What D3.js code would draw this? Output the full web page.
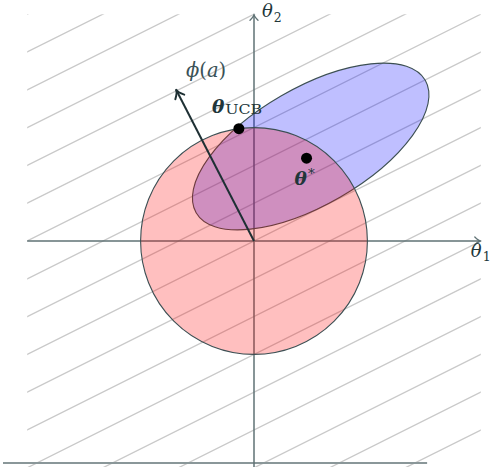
<!DOCTYPE html>
<html>
<head>
<meta charset="utf-8">
<script src="https://cdn.jsdelivr.net/npm/d3@7"></script>
<style>
  html, body { margin: 0; padding: 0; background: #fff; }
  svg { display: block; }
  text { font-family: "DejaVu Serif", "Liberation Serif", serif; }
</style>
</head>
<body>
<script>
// Parameter space (θ1, θ2) with a confidence ball, a plausible set and the UCB choice.
const axisExtent = [-6, 6];
const hatchOffsets = [-9, -8, -7, -6, -5, -4, -3, -2, -1, 0, 1, 2, 3, 4, 5, 6, 7, 8, 9];
const hatchSlope = 0.5;

const circleCenter = [0, 0];
const circleRadius = 3;

const ellipseCenter = [1.5, 2.5];
const ellipseAxes = [3.5, 1.55];
const ellipseAngle = 30;

const phiDirection = [-2.06, 4.0];

const pointNames = ["ucb", "star"];
const pointCoords = [[-0.4, 2.97], [1.39, 2.19]];

const baseLine = { y: -5.87, x0: -6.64, x1: 4.58 };

const W = 490, H = 467;
const unit = 37.8;
const ox = 254, oy = 241;

const x = d3.scaleLinear().domain([0, 1]).range([ox, ox + unit]);
const y = d3.scaleLinear().domain([0, 1]).range([oy, oy - unit]);

const svg = d3.select("body").append("svg").attr("width", W).attr("height", H);
const defs = svg.append("defs");
defs.append("clipPath").attr("id", "hatch-clip")
  .append("rect")
  .attr("x", x(axisExtent[0])).attr("y", y(axisExtent[1]))
  .attr("width", x(axisExtent[1]) - x(axisExtent[0]))
  .attr("height", y(axisExtent[0]) - y(axisExtent[1]));

// Diagonal hatching of the plane
svg.append("g").attr("clip-path", "url(#hatch-clip)")
  .selectAll("line").data(hatchOffsets).join("line")
  .attr("x1", x(-30)).attr("y1", c => y(hatchSlope * -30 + c))
  .attr("x2", x(30)).attr("y2", c => y(hatchSlope * 30 + c))
  .attr("stroke", "#c9c9c9").attr("stroke-width", 1.3);

// Bottom rule
svg.append("line")
  .attr("x1", x(baseLine.x0)).attr("x2", x(baseLine.x1))
  .attr("y1", y(baseLine.y)).attr("y2", y(baseLine.y))
  .attr("stroke", "#8a9799").attr("stroke-width", 2);

const axisColor = "#5f7275";
function chevron(g, tx, ty, angle, len, half, color, width) {
  const bx = -Math.cos(angle), by = -Math.sin(angle);
  const px = -by, py = bx;
  const p1 = [tx + bx * len + px * half, ty + by * len + py * half];
  const p2 = [tx + bx * len - px * half, ty + by * len - py * half];
  const q = [tx + bx * len * 0.35, ty + by * len * 0.35];
  g.append("path")
    .attr("d", `M${p1[0]},${p1[1]} Q${q[0]},${q[1]} ${tx},${ty} Q${q[0]},${q[1]} ${p2[0]},${p2[1]}`)
    .attr("fill", "none").attr("stroke", color).attr("stroke-width", width)
    .attr("stroke-linecap", "round").attr("stroke-linejoin", "round");
}

// Axes
const axes = svg.append("g");
axes.append("line")
  .attr("x1", x(axisExtent[0])).attr("x2", x(axisExtent[1]) - 1)
  .attr("y1", y(0)).attr("y2", y(0))
  .attr("stroke", axisColor).attr("stroke-width", 1.5);
chevron(axes, x(axisExtent[1]), y(0), 0, 6, 4, axisColor, 1.3);
axes.append("line")
  .attr("x1", x(0)).attr("x2", x(0))
  .attr("y1", H).attr("y2", y(axisExtent[1]) + 1)
  .attr("stroke", axisColor).attr("stroke-width", 1.5);
chevron(axes, x(0), y(axisExtent[1]), -Math.PI / 2, 6, 4, axisColor, 1.3);

// Plausible-parameter ellipse
const ecx = x(ellipseCenter[0]), ecy = y(ellipseCenter[1]);
svg.append("ellipse")
  .attr("cx", ecx).attr("cy", ecy)
  .attr("rx", x(ellipseAxes[0]) - x(0))
  .attr("ry", x(ellipseAxes[1]) - x(0))
  .attr("transform", `rotate(${-ellipseAngle},${ecx},${ecy})`)
  .attr("fill", "rgba(0,0,255,0.25)")
  .attr("stroke", "#3c4f53").attr("stroke-width", 1.1);

// Ball around the origin
svg.append("circle")
  .attr("cx", x(circleCenter[0])).attr("cy", y(circleCenter[1]))
  .attr("r", x(circleRadius) - x(0))
  .attr("fill", "rgba(255,0,0,0.25)")
  .attr("stroke", "#3c4f53").attr("stroke-width", 1.1);

// Feature direction φ(a)
const phiColor = "#1e3034";
const tipX = x(phiDirection[0]), tipY = y(phiDirection[1]);
svg.append("line")
  .attr("x1", x(0)).attr("y1", y(0))
  .attr("x2", tipX).attr("y2", tipY)
  .attr("stroke", phiColor).attr("stroke-width", 2);
chevron(svg, tipX, tipY, Math.atan2(tipY - y(0), tipX - x(0)), 8, 5, phiColor, 2);

// Points
svg.selectAll("circle.pt").data(pointCoords).join("circle")
  .attr("class", "pt")
  .attr("cx", d => x(d[0])).attr("cy", d => y(d[1]))
  .attr("r", 5.5).attr("fill", "#000");

// Labels
const labelColor = "#21363a";
function thetaLabel(px, py, bold, sub, subDy, subSize, mainSize, subLength) {
  const t = svg.append("text").attr("x", px).attr("y", py).attr("fill", labelColor);
  t.append("tspan").text("θ")
    .attr("font-style", "italic").attr("font-weight", bold ? "bold" : "normal")
    .attr("font-size", mainSize);
  const s = t.append("tspan").text(sub).attr("dy", subDy).attr("dx", 1)
    .attr("font-size", subSize);
  if (subLength) s.attr("textLength", subLength).attr("lengthAdjust", "spacingAndGlyphs");
  return t;
}
const ucb = pointCoords[pointNames.indexOf("ucb")];
const star = pointCoords[pointNames.indexOf("star")];
thetaLabel(x(ucb[0]) - 27, y(ucb[1]) - 16, true, "UCB", 1.5, 12, 18.5, 37);
thetaLabel(x(star[0]) - 12, y(star[1]) + 27, true, "*", -7, 13.5, 18.5);
thetaLabel(x(0) + 8, 17, false, "2", 5, 12.5, 18);
thetaLabel(x(axisExtent[1]) - 10, y(0) + 16, false, "1", 3.5, 12.5, 18);

const phiLabel = svg.append("text").attr("x", 186).attr("y", 77)
  .attr("fill", "#3a5257").attr("font-size", 19.5);
phiLabel.append("tspan").text("ϕ").attr("font-style", "italic");
phiLabel.append("tspan").text("(");
phiLabel.append("tspan").text("a").attr("font-style", "italic");
phiLabel.append("tspan").text(")");
</script>
</body>
</html>
